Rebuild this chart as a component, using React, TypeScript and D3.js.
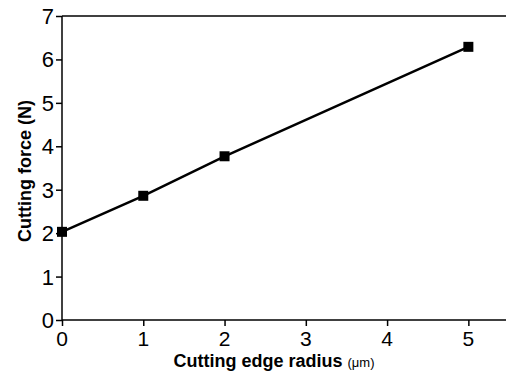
import React, { useEffect, useRef } from "react";
import * as d3 from "d3";

const radius = [0, 1, 2, 5];
const force = [2.03, 2.86, 3.77, 6.29];
const xTicks = [0, 1, 2, 3, 4, 5];
const yTicks = [0, 1, 2, 3, 4, 5, 6, 7];

const width = 506;
const height = 372;
const margin = { top: 16, right: -3, bottom: 52, left: 62 };
const font = "Liberation Sans, Arial, sans-serif";

export default function App() {
  const svgRef = useRef<SVGSVGElement>(null);

  useEffect(() => {
    const svg = d3.select(svgRef.current);
    svg.selectAll("*").remove();

    const x = d3.scaleLinear().domain([0, 5.5]).range([margin.left, width - margin.right]);
    const y = d3.scaleLinear().domain([0, 7]).range([height - margin.bottom, margin.top]);

    const g = svg.append("g");

    // top frame line (right side is cropped off in the source)
    g.append("line")
      .attr("x1", x(0)).attr("x2", width)
      .attr("y1", y(7)).attr("y2", y(7))
      .attr("stroke", "#000").attr("stroke-width", 1.5);

    // x axis
    const xAxis = g.append("g").attr("transform", `translate(0, ${y(0)})`);
    xAxis.call(d3.axisBottom(x).tickValues(d3.range(0, 5.51, 0.5)).tickSize(4).tickFormat(() => ""));
    xAxis.call(d3.axisBottom(x).tickValues(xTicks).tickSize(6).tickFormat(() => ""));
    xAxis.selectAll("path, line").attr("stroke", "#000").attr("stroke-width", 1.5);
    xAxis.selectAll(".domain").attr("d", `M${x(0)},0H${width}`);

    g.selectAll(".xlab")
      .data(xTicks)
      .enter()
      .append("text")
      .attr("x", (d) => x(d))
      .attr("y", y(0) + 26)
      .attr("text-anchor", "middle")
      .style("font-family", font)
      .style("font-size", "21px")
      .text((d) => d);

    // y axis
    const yAxis = g.append("g").attr("transform", `translate(${x(0)}, 0)`);
    yAxis.call(d3.axisLeft(y).tickValues(d3.range(0, 7.01, 0.5)).tickSize(4).tickFormat(() => ""));
    yAxis.call(d3.axisLeft(y).tickValues(yTicks).tickSize(6).tickFormat(() => ""));
    yAxis.selectAll("path, line").attr("stroke", "#000").attr("stroke-width", 1.5);
    yAxis.selectAll(".domain").attr("d", `M0,${y(7)}V${y(0)}`);

    g.selectAll(".ylab")
      .data(yTicks)
      .enter()
      .append("text")
      .attr("x", x(0) - 8)
      .attr("y", (d) => y(d) + 8)
      .attr("text-anchor", "end")
      .style("font-family", font)
      .style("font-size", "22px")
      .text((d) => d);

    // axis titles
    const xt = g.append("text")
      .attr("x", 274)
      .attr("y", 367)
      .attr("text-anchor", "middle")
      .style("font-family", font)
      .style("font-weight", "bold")
      .style("font-size", "18px");
    xt.append("tspan").text("Cutting edge radius ");
    xt.append("tspan").style("font-size", "13px").style("font-weight", "normal").text("(μm)");

    g.append("text")
      .attr("transform", `translate(31, 171) rotate(-90)`)
      .attr("text-anchor", "middle")
      .style("font-family", font)
      .style("font-weight", "bold")
      .style("font-size", "18px")
      .text("Cutting force (N)");

    // line + markers
    const pts = radius.map((r, i) => [r, force[i]] as [number, number]);
    g.append("path")
      .datum(pts)
      .attr("fill", "none")
      .attr("stroke", "#000")
      .attr("stroke-width", 2.5)
      .attr("d", d3.line<[number, number]>().x((d) => x(d[0])).y((d) => y(d[1])));

    g.selectAll(".pt")
      .data(pts)
      .enter()
      .append("rect")
      .attr("x", (d) => x(d[0]) - 5)
      .attr("y", (d) => y(d[1]) - 5)
      .attr("width", 10)
      .attr("height", 10)
      .attr("fill", "#000");
  }, []);

  return (
    <div style={{ position: "absolute", left: 0, top: 0, background: "#fff" }}>
      <svg ref={svgRef} width={width} height={height} style={{ display: "block" }}></svg>
    </div>
  );
}
